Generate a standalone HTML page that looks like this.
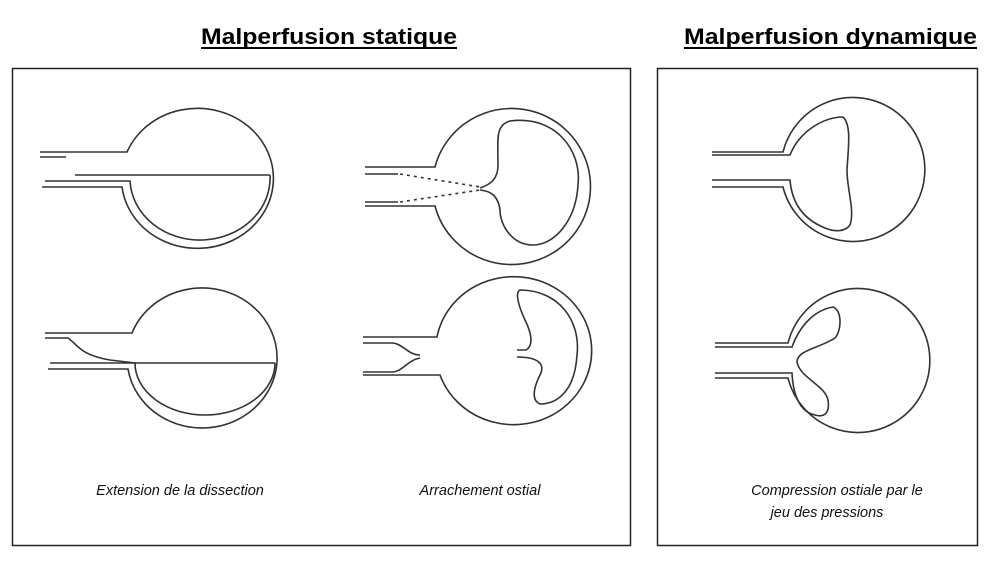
<!DOCTYPE html>
<html><head><meta charset="utf-8"><style>
html,body{margin:0;padding:0;background:#fff;}
svg{display:block;}
</style></head><body>
<svg width="989" height="561" viewBox="0 0 989 561" xmlns="http://www.w3.org/2000/svg">
<rect width="989" height="561" fill="#fff"/>
<g font-family="Liberation Sans, sans-serif" font-weight="bold" font-size="22" fill="#000">
<text x="201" y="44" textLength="256" lengthAdjust="spacingAndGlyphs">Malperfusion statique</text>
<text x="684" y="44" textLength="293" lengthAdjust="spacingAndGlyphs">Malperfusion dynamique</text>
</g>
<rect x="201" y="47" width="256" height="2" fill="#000"/>
<rect x="684" y="47" width="293" height="2" fill="#000"/>
<rect x="12.5" y="68.5" width="618" height="477" fill="none" stroke="#222" stroke-width="1.5"/>
<rect x="657.5" y="68.5" width="320" height="477" fill="none" stroke="#222" stroke-width="1.5"/>
<g fill="none" stroke="#333" stroke-width="1.6">
<!-- A -->
<path d="M40,152 H127 A76,70 0 1,1 122,187 H42"/>
<path d="M45,181 H130 A70,62 0 0,0 270,175"/>
<path d="M75,175 H270"/>
<path d="M40,157 H66"/>
<!-- B -->
<path d="M45,333 H132 A75,70 0 1,1 128,369 H48"/>
<path d="M45,338 H68 C78,345 80,355 110,360 L135,363 H275"/>
<path d="M50,363 H135 A70,52 0 0,0 275,363"/>
<!-- C -->
<path d="M365,167 H435 A79,78 0 1,1 435,206 H365"/>
<path d="M365,174 H398 M365,202 H398"/>
<path d="M400,174 L480,187 M400,202 L480,190" stroke-dasharray="3,4"/>
<path d="M480,188 C492,184 498,178 498,165 C498,140 495,125 510,121 C555,115 582,150 578,185 C576,220 555,245 533,245 C512,245 500,225 500,210 C498,195 490,191 480,190"/>
<!-- D -->
<path d="M363,337 H437 A78,74 0 1,1 440,375 H363"/>
<path d="M363,343 H392 C402,343 408,355 420,355 M363,372 H392 C402,372 408,360 420,358"/>
<path d="M517,350 H526 C535,345 530,330 525,320 C518,305 515,292 520,290 C558,290 581,320 577,355 C575,390 558,404 540,404 C530,400 535,385 540,375 C545,365 540,357 517,357"/>
<!-- E -->
<path d="M712,152 H783 A72,72 0 1,1 783,187 H712"/>
<path d="M712,155 H790 C800,130 825,117 843,117 C852,125 848,150 847,170 C847,190 855,210 850,225 C845,232 835,232 825,228 C805,220 792,205 790,180 H712"/>
<!-- F -->
<path d="M715,343 H788 A72,72 0 1,1 788,378 H715"/>
<path d="M715,347 H792 C800,325 815,310 833,307 C842,310 842,330 835,338 C820,348 797,350 797,362 C800,378 825,385 828,400 C830,412 825,418 815,415 C800,412 793,395 792,373 H715"/>
</g>
<g font-family="Liberation Sans, sans-serif" font-style="italic" font-size="14.5" fill="#111" text-anchor="middle">
<text x="180" y="495">Extension de la dissection</text>
<text x="480" y="495">Arrachement ostial</text>
<text x="837" y="495">Compression ostiale par le</text>
<text x="827" y="517">jeu des pressions</text>
</g>
</svg>
</body></html>
